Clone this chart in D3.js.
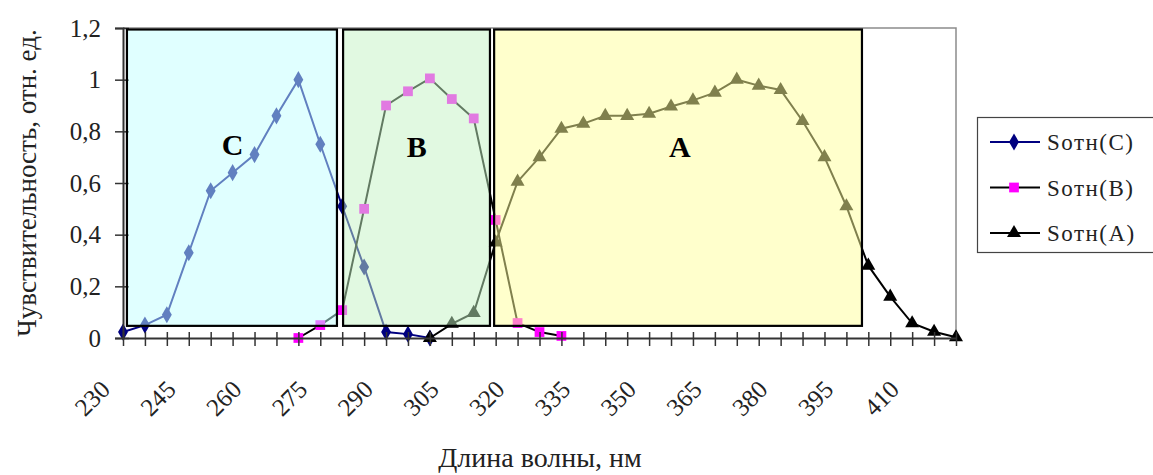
<!DOCTYPE html>
<html>
<head>
<meta charset="utf-8">
<script src="https://cdn.jsdelivr.net/npm/d3@7"></script>
<style>
  body { margin: 0; background: #fff; }
  svg { display: block; }
  svg text { font-family: "Times New Roman", Times, "Liberation Serif", "DejaVu Serif", serif !important; }
</style>
</head>
<body>
<svg id="chart" width="1153" height="475"></svg>
<script>
// wavelength categories (nm)
const categories = [230, 235, 240, 245, 250, 255, 260, 265, 270, 275, 280, 285, 290, 295, 300,
  305, 310, 315, 320, 325, 330, 335, 340, 345, 350, 355, 360, 365, 370, 375, 380, 385, 390,
  395, 400, 405, 410, 415, 420];
const labelEvery = 3;

// relative sensitivity
const sotnC = [0.023, 0.05, 0.09, 0.33, 0.57, 0.64, 0.71, 0.86, 1.0, 0.75, 0.51, 0.275, 0.023, 0.015, 0.0];
const sotnB = [null, null, null, null, null, null, null, null,
  0.0, 0.05, 0.108, 0.50, 0.90, 0.955, 1.005, 0.925, 0.85, 0.457, 0.058, 0.023, 0.008];
const sotnA = [null, null, null, null, null, null, null, null, null, null, null, null, null, null,
  0.0, 0.055, 0.097, 0.37, 0.605, 0.70, 0.81, 0.83, 0.86, 0.86, 0.868, 0.896, 0.92, 0.95, 1.0,
  0.977, 0.96, 0.84, 0.70, 0.51, 0.28, 0.16, 0.057, 0.024, 0.003];

const yTicks = [0, 0.2, 0.4, 0.6, 0.8, 1, 1.2];

// highlighted zones (category index range, value range)
const zones = [
  { name: "C", from: 0.18, to: 9.76, fill: "#c1ffff", labelAt: 5.0, labelY: 0.71 },
  { name: "B", from: 10.04, to: 16.74, fill: "#c4f4c4", labelAt: 13.4, labelY: 0.70 },
  { name: "A", from: 16.93, to: 33.71, fill: "#ffff99", labelAt: 25.4, labelY: 0.70 }
];
const zoneBottom = 0.047;

const series = [
  { key: "Sотн(C)", values: sotnC, line: "#000080", marker: "#000080", shape: d3.symbolDiamond, size: 85 },
  { key: "Sотн(B)", values: sotnB, line: "#000000", marker: "#ff00ff", shape: d3.symbolSquare, size: 95 },
  { key: "Sотн(A)", values: sotnA, line: "#000000", marker: "#000000", shape: d3.symbolTriangle, size: 85 }
];

const plotL = 123, plotR = 956, plotT = 28, plotB = 338;

const svg = d3.select("#chart");

const x = d3.scalePoint().domain(categories).range([plotL, plotR]);
const y = d3.scaleLinear().domain([0, 1.2]).range([plotB, plotT]);
const xi = i => plotL + i * x.step();
const comma = d => String(d).replace(".", ",");

// plot area frame
svg.append("path")
    .attr("d", `M${plotL},${plotT}H${plotR}V${plotB}`)
    .attr("fill", "none")
    .attr("stroke", "#8c8c8c")
    .attr("stroke-width", 1.5);

// series
const line = d3.line()
    .defined(d => d.v != null)
    .x(d => x(d.c))
    .y(d => y(d.v));

series.forEach(s => {
  const pts = s.values.map((v, i) => ({ c: categories[i], v: v }));
  svg.append("path")
      .datum(pts)
      .attr("fill", "none")
      .attr("stroke", s.line)
      .attr("stroke-width", 2)
      .attr("d", line);
  svg.append("g")
    .selectAll("path")
    .data(pts.filter(d => d.v != null))
    .join("path")
      .attr("transform", d => `translate(${x(d.c)},${y(d.v)})`)
      .attr("d", d3.symbol(s.shape, s.size))
      .attr("fill", s.marker);
});

// axes
const yAxis = svg.append("g")
    .attr("transform", `translate(${plotL},0)`)
    .call(d3.axisLeft(y).tickValues(yTicks).tickFormat(comma).tickSize(8).tickPadding(14));
yAxis.select(".domain").attr("stroke", "#333").attr("stroke-width", 2);
yAxis.selectAll(".tick line").attr("x1", 6).attr("stroke", "#333").attr("stroke-width", 1.5);
yAxis.selectAll(".tick text")
    .attr("font-size", 25)
    .attr("fill", "#222");

const xAxis = svg.append("g")
    .attr("transform", `translate(0,${plotB})`)
    .call(d3.axisBottom(x).tickSize(8).tickSizeOuter(0)
      .tickFormat((d, i) => i % labelEvery === 0 ? d : ""));
xAxis.select(".domain").attr("stroke", "#333").attr("stroke-width", 2);
xAxis.selectAll(".tick line").attr("y1", -6).attr("stroke", "#333").attr("stroke-width", 1.5);
xAxis.selectAll(".tick text")
    .attr("font-size", 25)
    .attr("fill", "#222")
    .attr("text-anchor", "end")
    .attr("transform", "translate(-12,53) rotate(-45)")
    .attr("x", 0)
    .attr("y", 0)
    .attr("dy", 0);

// zones drawn over the curves, semi-transparent like the original shapes
const zone = svg.append("g")
  .selectAll("g")
  .data(zones)
  .join("g");

zone.append("rect")
    .attr("x", d => xi(d.from))
    .attr("y", y(1.2) + 1.5)
    .attr("width", d => xi(d.to) - xi(d.from))
    .attr("height", y(zoneBottom) - y(1.2) - 1.5)
    .attr("fill", d => d.fill)
    .attr("fill-opacity", 0.5)
    .attr("stroke", "#000")
    .attr("stroke-width", 2.2);

zone.append("text")
    .attr("x", d => xi(d.labelAt))
    .attr("y", d => y(d.labelY))
    .attr("text-anchor", "middle")
    .attr("font-size", 30)
    .attr("font-weight", "bold")
    .attr("fill", "#000")
    .text(d => d.name);

// axis titles
svg.append("text")
    .attr("transform", "translate(36,183) rotate(-90)")
    .attr("text-anchor", "middle")
    .attr("font-size", 27)
    .attr("fill", "#222")
    .text("Чувствительность, отн. ед.");

svg.append("text")
    .attr("x", 540)
    .attr("y", 467)
    .attr("text-anchor", "middle")
    .attr("font-size", 28)
    .attr("fill", "#222")
    .text("Длина волны, нм");

// legend
const legend = svg.append("g");
legend.append("rect")
    .attr("x", 977.5)
    .attr("y", 117.5)
    .attr("width", 180)
    .attr("height", 135)
    .attr("fill", "#fff")
    .attr("stroke", "#444")
    .attr("stroke-width", 1.2);

const item = legend.selectAll("g")
  .data(series)
  .join("g")
    .attr("transform", (d, i) => `translate(0,${142 + i * 45.5})`);

item.append("line")
    .attr("x1", 990).attr("x2", 1040)
    .attr("stroke", d => d.line)
    .attr("stroke-width", 2);

item.append("path")
    .attr("transform", "translate(1014,0)")
    .attr("d", d => d3.symbol(d.shape, d.size)())
    .attr("fill", d => d.marker);

item.append("text")
    .attr("x", 1047)
    .attr("y", 8)
    .attr("font-size", 23)
    .attr("letter-spacing", 1.5)
    .attr("fill", "#222")
    .text(d => d.key);
</script>
</body>
</html>
